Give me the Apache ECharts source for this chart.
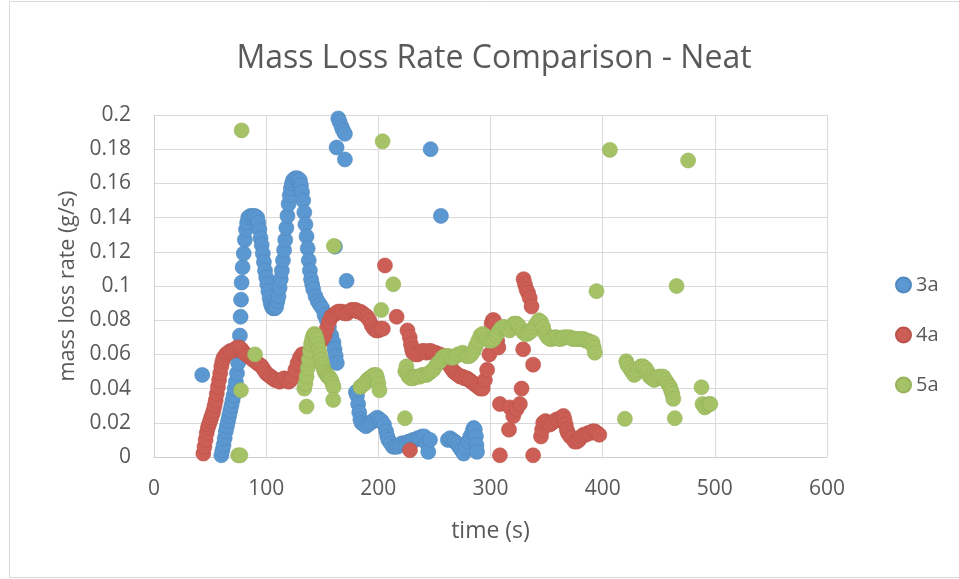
<!DOCTYPE html>
<html>
<head>
<meta charset="utf-8">
<title>Mass Loss Rate Comparison - Neat</title>
<script src="https://cdn.jsdelivr.net/npm/echarts@6/dist/echarts.min.js"></script>
<style>
  html, body { margin: 0; padding: 0; background: #ffffff; }
  #chart { width: 959px; height: 579px; }
</style>
</head>
<body>
<div id="chart"></div>
<script>
// Mass loss rate (g/s) against time (s) for three neat samples.
const seriesNames = ['3a', '4a', '5a'];
const xTicks = [0, 100, 200, 300, 400, 500, 600];
const yTicks = [0, 0.02, 0.04, 0.06, 0.08, 0.1, 0.12, 0.14, 0.16, 0.18, 0.2];

// sample 3a
const time3a = [43,
  60, 61, 62, 63, 64, 65, 66, 67, 68, 69, 70, 71, 72, 73, 74, 75, 76, 76.6, 77.2, 77.6, 78.1, 79, 80, 81, 82, 83, 84, 86, 88, 90,
  92, 93, 94, 95, 96, 97, 98, 99, 100, 101, 102, 103, 104, 105, 106, 107, 108, 109, 110, 111, 112, 113, 114, 115, 116, 117, 118, 119, 120,
  121, 122, 123, 124, 126, 128, 130, 131, 132, 133, 134, 135, 136, 137, 138, 139, 140, 141, 142, 144, 146, 148, 150, 152, 154, 156, 158,
  160, 161, 162, 163,
  162.8, 164.3, 165.5, 167.3, 168.5, 170.2, 170.2, 161.3, 171.7,
  180, 181, 182, 183, 184, 185, 187, 189, 191, 193, 195, 197, 199, 201, 203, 205, 207, 208, 209, 211, 213, 215, 217, 219, 221, 223, 225,
  227, 229, 231, 233, 235, 237, 239, 241, 243, 244.5, 246, 246.6, 255.8,
  262, 264, 266, 268, 270, 272, 274, 276, 278, 280, 282, 284, 285, 286, 287, 287.5, 288];
const rate3a = [0.048,
  0.001, 0.004, 0.007, 0.011, 0.015, 0.018, 0.021, 0.024, 0.027, 0.030, 0.033, 0.036, 0.040, 0.044, 0.049, 0.055, 0.062, 0.071, 0.082, 0.092, 0.102, 0.111, 0.119, 0.127, 0.133, 0.137, 0.140, 0.141, 0.141, 0.141,
  0.140, 0.137, 0.133, 0.128, 0.124, 0.119, 0.114, 0.109, 0.105, 0.101, 0.097, 0.093, 0.090, 0.088, 0.087, 0.087, 0.087, 0.088, 0.091, 0.094, 0.099, 0.104, 0.109, 0.115, 0.121, 0.127, 0.134, 0.141, 0.148,
  0.153, 0.157, 0.160, 0.162, 0.163, 0.163, 0.162, 0.159, 0.155, 0.150, 0.143, 0.136, 0.129, 0.122, 0.115, 0.109, 0.104, 0.101, 0.098, 0.094, 0.091, 0.089, 0.087, 0.083, 0.080, 0.076, 0.071,
  0.067, 0.063, 0.059, 0.055,
  0.181, 0.198, 0.196, 0.193, 0.191, 0.189, 0.174, 0.123, 0.103,
  0.038, 0.036, 0.031, 0.026, 0.022, 0.020, 0.019, 0.018, 0.019, 0.020, 0.021, 0.022, 0.023, 0.022, 0.021, 0.019, 0.015, 0.012, 0.010, 0.008, 0.006, 0.006, 0.006, 0.007, 0.008, 0.008, 0.008,
  0.009, 0.009, 0.010, 0.010, 0.011, 0.011, 0.012, 0.012, 0.008, 0.003, 0.010, 0.180, 0.141,
  0.010, 0.011, 0.010, 0.009, 0.008, 0.006, 0.004, 0.002, 0.006, 0.009, 0.012, 0.015, 0.017, 0.016, 0.012, 0.007, 0.003];

// sample 4a
const time4a = [44, 45, 46, 47, 48, 49, 50, 51, 52, 53, 54, 55, 56, 57, 58, 59, 60, 61, 62, 64, 66, 68, 70, 72, 74, 76, 78, 80,
  82, 84, 86, 88, 90, 92, 94, 96, 98, 100, 102, 104, 106, 108, 110, 112, 114, 116, 118, 120, 122, 124, 126, 128, 130, 132, 134, 136,
  138, 140, 142, 144, 146, 148, 150, 152, 154, 156, 158, 160, 162, 164, 166, 168, 170, 172, 174, 176, 178, 180, 182, 184, 186, 188,
  190, 192, 194, 196, 198, 200, 202, 204, 205.9, 216.3, 228.2,
  226, 228, 229, 230, 231, 233, 235, 237, 239, 241, 243, 245, 247, 249, 251, 253, 255, 257, 259, 261, 263, 265, 267, 269, 271, 273,
  275, 277, 279, 281, 283, 285, 287, 289, 291, 293, 295, 297, 299, 300, 301, 302, 303, 304, 305, 306, 307,
  308.4, 308.4, 317.3, 316.5, 320.3, 323.3, 326.2, 327.7, 329.1, 329.5, 330.7, 332, 333.5, 335, 336.6, 338, 338,
  345, 346, 347, 349, 351, 353, 355, 357, 359, 361, 363, 365, 366, 367, 368, 369, 371, 373, 375, 377, 379, 381, 383, 385, 387, 389,
  391, 393, 395, 397];
const rate4a = [0.002, 0.006, 0.010, 0.014, 0.017, 0.019, 0.021, 0.023, 0.025, 0.027, 0.030, 0.033, 0.037, 0.041, 0.045, 0.049, 0.053, 0.056, 0.058, 0.060, 0.061, 0.062, 0.062, 0.063, 0.064, 0.064, 0.063, 0.061,
  0.060, 0.059, 0.058, 0.057, 0.056, 0.055, 0.054, 0.053, 0.051, 0.049, 0.048, 0.047, 0.046, 0.045, 0.045, 0.044, 0.045, 0.046, 0.045, 0.044, 0.045, 0.047, 0.051, 0.055, 0.058, 0.060, 0.060, 0.059,
  0.058, 0.058, 0.060, 0.063, 0.065, 0.067, 0.069, 0.071, 0.075, 0.079, 0.082, 0.083, 0.084, 0.085, 0.085, 0.085, 0.084, 0.084, 0.085, 0.086, 0.086, 0.086, 0.085, 0.085, 0.084, 0.083,
  0.082, 0.080, 0.077, 0.075, 0.074, 0.074, 0.075, 0.075, 0.112, 0.082, 0.004,
  0.074, 0.070, 0.066, 0.063, 0.061, 0.060, 0.060, 0.061, 0.062, 0.062, 0.061, 0.062, 0.062, 0.061, 0.061, 0.060, 0.060, 0.059, 0.058, 0.056, 0.054, 0.052, 0.050, 0.049, 0.048, 0.047,
  0.047, 0.046, 0.046, 0.045, 0.044, 0.043, 0.042, 0.041, 0.040, 0.040, 0.045, 0.051, 0.060, 0.070, 0.078, 0.080, 0.080, 0.078, 0.073, 0.068, 0.064,
  0.031, 0.001, 0.029, 0.016, 0.024, 0.028, 0.031, 0.040, 0.063, 0.104, 0.101, 0.098, 0.096, 0.093, 0.088, 0.054, 0.001,
  0.012, 0.016, 0.020, 0.021, 0.020, 0.019, 0.020, 0.021, 0.022, 0.022, 0.023, 0.024, 0.022, 0.019, 0.016, 0.014, 0.012, 0.011, 0.009, 0.009, 0.010, 0.012, 0.013, 0.013, 0.014, 0.014,
  0.015, 0.015, 0.014, 0.013];

// sample 5a
const time5a = [75, 77, 77.5, 78.1, 90,
  134, 135, 136, 137, 138, 139, 140, 141, 142, 143, 144, 145, 146, 147, 148, 149, 150, 151, 152, 153, 154, 155, 156, 157, 158, 159, 160,
  136, 159.8, 160.4,
  184, 186, 188, 190, 192, 194, 196, 198, 199, 200, 201, 202.6, 203.8, 213.3, 223.7,
  224, 225, 226, 227, 229, 231, 233, 235, 237, 239, 241, 243, 245, 247, 249, 251, 253, 255, 257, 259, 261, 263, 265, 267, 269, 271,
  273, 275, 277, 279, 281, 283, 285, 287, 289, 291, 293, 295, 297, 299, 301, 303, 305, 307, 309, 311, 313, 315, 317, 319, 321, 323,
  325, 327, 329, 331, 333, 335, 337, 339, 341, 343, 345, 347, 349, 351, 353, 355, 357, 359, 361, 363, 365, 367, 369, 371, 373, 375,
  377, 379, 381, 383, 385, 387, 389, 391, 392, 393, 394.5, 406.4,
  419.8, 421, 422, 424, 426, 428, 430, 432, 434, 436, 438, 440, 442, 444, 446, 448, 450, 452, 454, 456, 458, 460, 461, 462, 463,
  464.3, 465.9, 476.2, 488.1, 489, 491, 493, 495, 496];
const rate5a = [0.001, 0.001, 0.039, 0.191, 0.060,
  0.040, 0.043, 0.047, 0.052, 0.057, 0.062, 0.066, 0.069, 0.071, 0.072, 0.071, 0.069, 0.066, 0.063, 0.060, 0.057, 0.054, 0.052, 0.050, 0.049, 0.048, 0.047, 0.047, 0.046, 0.045, 0.043, 0.041,
  0.0295, 0.0334, 0.1234,
  0.041, 0.042, 0.043, 0.045, 0.046, 0.047, 0.048, 0.048, 0.046, 0.043, 0.039, 0.086, 0.1846, 0.101, 0.0227,
  0.050, 0.053, 0.049, 0.047, 0.046, 0.046, 0.047, 0.047, 0.047, 0.048, 0.048, 0.048, 0.049, 0.050, 0.051, 0.053, 0.055, 0.056, 0.058, 0.059, 0.059, 0.059, 0.058, 0.058, 0.059, 0.060,
  0.060, 0.061, 0.060, 0.059, 0.059, 0.060, 0.062, 0.065, 0.068, 0.071, 0.072, 0.071, 0.069, 0.068, 0.068, 0.069, 0.071, 0.073, 0.075, 0.076, 0.076, 0.075, 0.074, 0.076, 0.078, 0.078,
  0.077, 0.075, 0.073, 0.072, 0.072, 0.073, 0.074, 0.076, 0.078, 0.080, 0.079, 0.076, 0.072, 0.070, 0.069, 0.069, 0.070, 0.070, 0.069, 0.069, 0.070, 0.070, 0.070, 0.070, 0.069, 0.069,
  0.069, 0.069, 0.069, 0.069, 0.068, 0.068, 0.067, 0.067, 0.064, 0.061, 0.097, 0.1796,
  0.0223, 0.056, 0.054, 0.052, 0.050, 0.048, 0.049, 0.051, 0.053, 0.053, 0.052, 0.050, 0.047, 0.046, 0.045, 0.046, 0.047, 0.047, 0.047, 0.045, 0.043, 0.041, 0.039, 0.037, 0.034,
  0.0227, 0.100, 0.1734, 0.0408, 0.031, 0.029, 0.030, 0.031, 0.031];

const colors = ['#5B97D0', '#CD5E55', '#A5C366'];
const borders = ['#4F88BE', '#B9524A', '#95B25A'];

function pairs(times, rates) {
  return times.map((t, i) => [t, rates[i]]);
}
const dataSets = [pairs(time3a, rate3a), pairs(time4a, rate4a), pairs(time5a, rate5a)];

const FONT = '"Open Sans", "Noto Sans", sans-serif';
const TEXT = '#595959';

const chart = echarts.init(document.getElementById('chart'), null, { renderer: 'canvas' });
chart.setOption({
  backgroundColor: '#ffffff',
  animation: false,
  color: colors,
  graphic: [{
    type: 'rect',
    shape: { x: 9.5, y: 1.5, width: 960, height: 576 },
    style: { fill: 'none', stroke: '#d9d9d9', lineWidth: 1 },
    silent: true
  }],
  title: {
    text: 'Mass Loss Rate Comparison - Neat',
    left: 489,
    textAlign: 'center',
    top: 38,
    textStyle: { fontFamily: FONT, fontSize: 32, fontWeight: 'normal', color: TEXT }
  },
  legend: {
    orient: 'vertical',
    left: 890,
    top: 269,
    itemWidth: 15,
    itemHeight: 15,
    itemGap: 28,
    icon: 'circle',
    data: seriesNames,
    textStyle: { fontFamily: FONT, fontSize: 20, color: TEXT, lineHeight: 22 }
  },
  grid: { left: 154, right: 132, top: 115, bottom: 122, containLabel: false },
  xAxis: {
    type: 'value',
    min: xTicks[0],
    max: xTicks[xTicks.length - 1],
    interval: 100,
    name: 'time (s)',
    nameLocation: 'middle',
    nameGap: 63,
    nameTextStyle: { fontFamily: FONT, fontSize: 23, color: TEXT },
    axisLine: { show: true, lineStyle: { color: '#d0d0d0', width: 1 } },
    axisTick: { show: false },
    axisLabel: { margin: 22, fontFamily: FONT, fontSize: 21, color: TEXT },
    splitLine: { show: true, lineStyle: { color: '#d9d9d9', width: 1 } }
  },
  yAxis: {
    type: 'value',
    min: yTicks[0],
    max: yTicks[yTicks.length - 1],
    interval: 0.02,
    name: 'mass loss rate (g/s)',
    nameLocation: 'middle',
    nameGap: 69,
    nameTextStyle: { fontFamily: FONT, fontSize: 21.5, color: TEXT },
    axisLine: { show: true, lineStyle: { color: '#d0d0d0', width: 1 } },
    axisTick: { show: false },
    axisLabel: {
      margin: 23, fontFamily: FONT, fontSize: 21, color: TEXT,
      formatter: v => String(Math.round(v * 100) / 100)
    },
    splitLine: { show: true, lineStyle: { color: '#d9d9d9', width: 1 } }
  },
  series: seriesNames.map((name, i) => ({
    name: name,
    type: 'scatter',
    symbol: 'circle',
    symbolSize: 15,
    data: dataSets[i],
    itemStyle: { color: colors[i], borderColor: borders[i], borderWidth: 0.6, opacity: 1 },
    emphasis: { disabled: true }
  }))
});
</script>
</body>
</html>
